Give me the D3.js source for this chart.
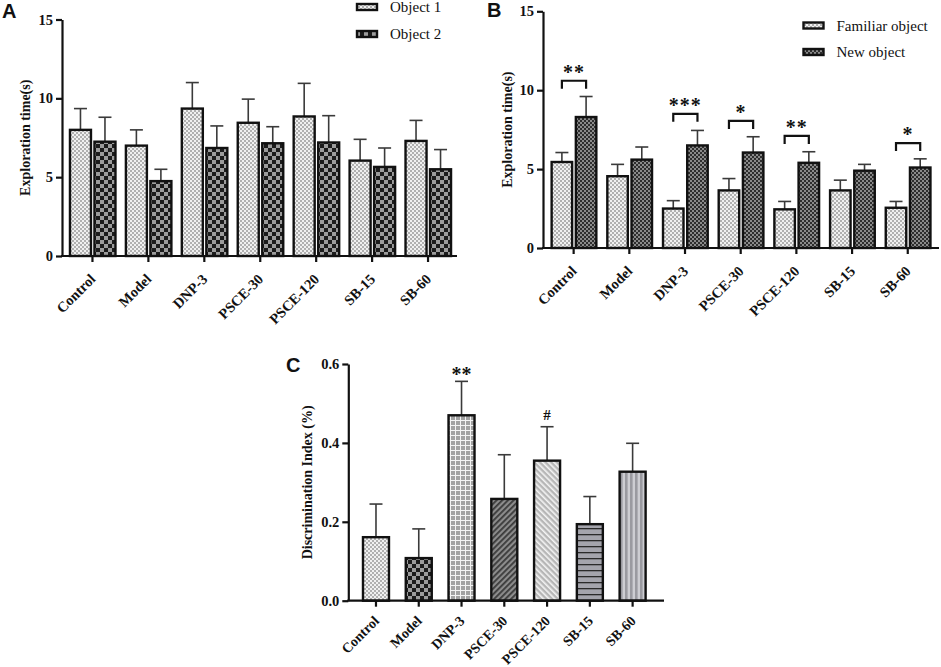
<!DOCTYPE html>
<html><head><meta charset="utf-8">
<script src="https://cdn.jsdelivr.net/npm/d3@7"></script>
<style>
html,body{margin:0;padding:0;background:#fff;}
svg{display:block;}
</style></head>
<body>
<svg id="chart" width="941" height="667"></svg>
<script>
// ---------- DATA ----------
const categories = ["Control","Model","DNP-3","PSCE-30","PSCE-120","SB-15","SB-60"];

// Panel A
const aObject1 = [8.0, 7.0, 9.35, 8.45, 8.85, 6.05, 7.3];
const aObject1Err = [9.35, 8.0, 11.0, 9.95, 10.95, 7.4, 8.6];
const aObject2 = [7.25, 4.75, 6.85, 7.15, 7.2, 5.65, 5.5];
const aObject2Err = [8.8, 5.5, 8.25, 8.2, 8.9, 6.85, 6.75];
const aLegend = ["Object 1", "Object 2"];

// Panel B
const bFamiliar = [5.45, 4.55, 2.5, 3.65, 2.45, 3.65, 2.55];
const bFamiliarErr = [6.05, 5.3, 3.0, 4.4, 2.95, 4.3, 2.95];
const bNew = [8.3, 5.6, 6.5, 6.05, 5.4, 4.9, 5.1];
const bNewErr = [9.6, 6.4, 7.45, 7.05, 6.1, 5.3, 5.65];
const bLegend = ["Familiar object", "New object"];
const bSig = ["**", "", "***", "*", "**", "", "*"];
const bBracket = [10.6, null, 8.5, 8.05, 7.1, null, 6.65];

// Panel C
const cIndex = [0.161, 0.108, 0.47, 0.258, 0.355, 0.194, 0.327];
const cIndexErr = [0.245, 0.182, 0.556, 0.37, 0.441, 0.264, 0.399];
const cSig = ["", "", "**", "", "#", "", ""];

const yTicksAB = [0, 5, 10, 15];
const yTicksC = [0, 0.2, 0.4, 0.6];

// ---------- DRAW ----------
const svg = d3.select("#chart");
const defs = svg.append("defs");
const SERIF = "'Liberation Serif','Times New Roman',serif";
const SANS = "'Liberation Sans',Arial,sans-serif";

function pat(id, w, h, bg, draw, transform) {
  const p = defs.append("pattern").attr("id", id).attr("patternUnits", "userSpaceOnUse")
    .attr("width", w).attr("height", h);
  if (transform) p.attr("patternTransform", transform);
  p.append("rect").attr("width", w).attr("height", h).attr("fill", bg);
  draw(p);
}
pat("lightCheck", 4, 4, "#f0f0f0", p => {
  p.append("rect").attr("x",0).attr("y",0).attr("width",2).attr("height",2).attr("fill","#b0b0b0");
  p.append("rect").attr("x",2).attr("y",2).attr("width",2).attr("height",2).attr("fill","#b0b0b0");
});
pat("darkCheck", 8, 8, "#9c9c9c", p => {
  p.append("rect").attr("x",0).attr("y",0).attr("width",4).attr("height",4).attr("fill","#1c1c1c");
  p.append("rect").attr("x",4).attr("y",4).attr("width",4).attr("height",4).attr("fill","#1c1c1c");
});
pat("fineDark", 4, 4, "#8a8a8a", p => {
  p.append("rect").attr("x",0).attr("y",0).attr("width",2).attr("height",2).attr("fill","#2e2e2e");
  p.append("rect").attr("x",2).attr("y",2).attr("width",2).attr("height",2).attr("fill","#2e2e2e");
});
pat("grid", 5, 5, "#a2a2a2", p => {
  p.append("rect").attr("x",0).attr("y",0).attr("width",5).attr("height",1).attr("fill","#f4f4f4");
  p.append("rect").attr("x",0).attr("y",0).attr("width",1).attr("height",5).attr("fill","#f4f4f4");
});
pat("diagDark", 4, 4, "#8c8c8c", p => {
  p.append("rect").attr("x",0).attr("y",0).attr("width",1.8).attr("height",4).attr("fill","#3a3a3a");
}, "rotate(45)");
pat("diagLight", 4, 4, "#b6b6b6", p => {
  p.append("rect").attr("x",0).attr("y",0).attr("width",1.6).attr("height",4).attr("fill","#f4f4f4");
}, "rotate(-45)");
pat("hLines", 6, 6, "#a4a4ac", p => {
  p.append("rect").attr("x",0).attr("y",0).attr("width",6).attr("height",1.3).attr("fill","#2a2a2a");
});
pat("vLines", 5, 5, "#cdcdd2", p => {
  p.append("rect").attr("x",0).attr("y",0).attr("width",2.6).attr("height",5).attr("fill","#9a9aa0");
});

function panel(cfg) {
  const g = svg.append("g");
  const y = d3.scaleLinear().domain(cfg.yDomain).range([cfg.bottom, cfg.top]);
  const x = d3.scaleBand().domain(categories).range(cfg.xRange).padding(0);
  const cx = c => x(c) + x.bandwidth() / 2;

  // bars
  cfg.series.forEach(s => {
    const bars = g.append("g");
    categories.forEach((c, i) => {
      const left = cx(c) + s.offset;
      const fill = typeof s.fill === "function" ? s.fill(i) : s.fill;
      const ex = left + cfg.barW / 2;
      bars.append("line").attr("x1", ex).attr("x2", ex)
        .attr("y1", y(s.values[i])).attr("y2", y(s.err[i]))
        .attr("stroke", "#3a3a3a").attr("stroke-width", 1.6);
      bars.append("line").attr("x1", ex - cfg.capW).attr("x2", ex + cfg.capW)
        .attr("y1", y(s.err[i])).attr("y2", y(s.err[i]))
        .attr("stroke", "#3a3a3a").attr("stroke-width", 1.6);
      bars.append("rect").attr("x", left).attr("width", cfg.barW)
        .attr("y", y(s.values[i])).attr("height", y(0) - y(s.values[i]))
        .attr("fill", fill).attr("stroke", "#111").attr("stroke-width", 2.4);
    });
  });

  // y axis
  const yAxis = d3.axisLeft(y).tickValues(cfg.yTicks).tickSize(6).tickSizeOuter(0)
    .tickPadding(3).tickFormat(cfg.yFormat);
  const ya = g.append("g").attr("transform", `translate(${cfg.left},0)`).call(yAxis);
  ya.select(".domain").attr("stroke", "#111").attr("stroke-width", 2.2);
  ya.selectAll(".tick line").attr("stroke", "#111").attr("stroke-width", 2.2);
  ya.selectAll(".tick text").attr("font-family", SERIF).attr("font-weight", "bold")
    .attr("font-size", 14.5).attr("fill", "#111");

  // x axis
  const xAxis = d3.axisBottom(x).tickSize(6).tickSizeOuter(0).tickPadding(0);
  const xa = g.append("g").attr("transform", `translate(0,${cfg.bottom})`).call(xAxis);
  xa.select(".domain").remove();
  xa.selectAll(".tick line").attr("stroke", "#111").attr("stroke-width", 2.2);
  xa.selectAll(".tick text").attr("font-family", SERIF).attr("font-weight", "bold")
    .attr("font-size", cfg.labelSize).attr("fill", "#111")
    .attr("text-anchor", "end").attr("dy", null).attr("y", null)
    .attr("transform", `translate(4,${cfg.labelDy}) rotate(-45)`);
  g.append("line").attr("x1", cfg.left - 1).attr("x2", cfg.right)
    .attr("y1", cfg.bottom).attr("y2", cfg.bottom)
    .attr("stroke", "#111").attr("stroke-width", 2.2);

  // y title
  g.append("text").attr("transform", `translate(${cfg.titleX},${(cfg.top + cfg.bottom) / 2}) rotate(-90)`)
    .attr("text-anchor", "middle").attr("font-family", SERIF).attr("font-weight", "bold")
    .attr("font-size", 14).attr("fill", "#111").text(cfg.title);

  // panel letter
  g.append("text").attr("x", cfg.letterX).attr("y", cfg.letterY)
    .attr("font-family", SANS).attr("font-weight", "bold").attr("font-size", 20)
    .attr("fill", "#111").text(cfg.letter);

  // legend
  if (cfg.legend) {
    cfg.legend.labels.forEach((lab, i) => {
      const ly = cfg.legend.y[i];
      g.append("rect").attr("x", cfg.legend.x).attr("y", ly - 3).attr("width", 20).attr("height", 6)
        .attr("fill", cfg.series[i].fill).attr("stroke", "#111").attr("stroke-width", 2.4);
      g.append("text").attr("x", cfg.legend.x + 33).attr("y", ly).attr("dy", "0.35em")
        .attr("font-family", SERIF).attr("font-size", 15).attr("fill", "#111").text(lab);
    });
  }
  return { g, x, y, cx };
}

// Panel A
panel({
  letter: "A", letterX: 2, letterY: 18,
  yDomain: [0, 15], yTicks: yTicksAB, yFormat: d3.format("d"),
  left: 62, right: 457, top: 19.5, bottom: 256, xRange: [64.5, 456],
  barW: 21, capW: 6.5, labelDy: 24, labelSize: 14.5,
  title: "Exploration time(s)", titleX: 30,
  series: [
    { values: aObject1, err: aObject1Err, fill: "url(#lightCheck)", offset: -22.5 },
    { values: aObject2, err: aObject2Err, fill: "url(#darkCheck)", offset: 2 }
  ],
  legend: { labels: aLegend, x: 357, y: [7, 34] }
});

// Panel B
const pB = panel({
  letter: "B", letterX: 487, letterY: 17,
  yDomain: [0, 15], yTicks: yTicksAB, yFormat: d3.format("d"),
  left: 543, right: 939, top: 11.3, bottom: 248, xRange: [545.8, 935.6],
  barW: 20.5, capW: 6.5, labelDy: 24, labelSize: 14.5,
  title: "Exploration time(s)", titleX: 512,
  series: [
    { values: bFamiliar, err: bFamiliarErr, fill: "url(#lightCheck)", offset: -22 },
    { values: bNew, err: bNewErr, fill: "url(#fineDark)", offset: 2.2 }
  ],
  legend: { labels: bLegend, x: 803.5, y: [25.5, 52] }
});
// significance brackets B
categories.forEach((c, i) => {
  if (bBracket[i] == null) return;
  const x1 = pB.cx(c) - 22 + 10.25, x2 = pB.cx(c) + 2.2 + 10.25;
  const yb = pB.y(bBracket[i]);
  pB.g.append("path").attr("d", `M${x1},${yb + 8}V${yb}H${x2}V${yb + 8}`)
    .attr("fill", "none").attr("stroke", "#111").attr("stroke-width", 2.2);
  pB.g.append("text").attr("x", (x1 + x2) / 2).attr("y", yb - 2)
    .attr("text-anchor", "middle").attr("font-family", SERIF).attr("font-weight", "bold")
    .attr("font-size", 20).attr("letter-spacing", 1).attr("fill", "#111").text(bSig[i]);
});

// Panel C
const cFills = ["url(#lightCheck)", "url(#darkCheck)", "url(#grid)", "url(#diagDark)",
  "url(#diagLight)", "url(#hLines)", "url(#vLines)"];
const pC = panel({
  letter: "C", letterX: 286, letterY: 372,
  yDomain: [0, 0.6], yTicks: yTicksC, yFormat: d3.format(".1f"),
  left: 348.3, right: 664, top: 364, bottom: 600.7, xRange: [354.6, 654],
  barW: 26, capW: 6.5, labelDy: 21, labelSize: 14,
  title: "Discrimination Index (%)", titleX: 312,
  series: [
    { values: cIndex, err: cIndexErr, fill: i => cFills[i], offset: -13 }
  ]
});
categories.forEach((c, i) => {
  if (!cSig[i]) return;
  const isHash = cSig[i] === "#";
  pC.g.append("text").attr("x", pC.cx(c)).attr("y", pC.y(cIndexErr[i]) - (isHash ? 7 : 0))
    .attr("text-anchor", "middle").attr("font-family", SERIF).attr("font-weight", "bold")
    .attr("font-size", isHash ? 15 : 20).attr("fill", "#111").text(cSig[i]);
});
</script>
</body></html>
